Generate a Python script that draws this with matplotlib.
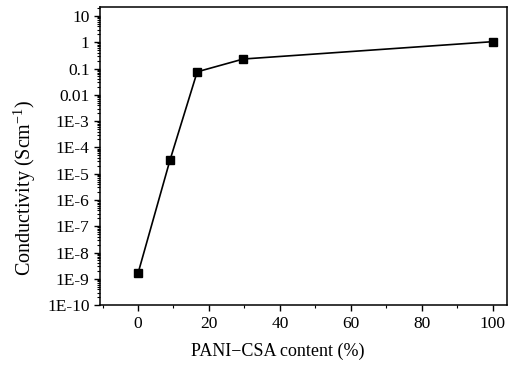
import numpy as np
import matplotlib.pyplot as plt
from matplotlib.ticker import LogLocator, MultipleLocator, NullFormatter

# data
content = [0, 9, 16.7, 29.7, 100]
conductivity = [1.6e-9, 3.2e-5, 0.075, 0.23, 1.05]

y_ticks = [10, 1, 0.1, 0.01, 1e-3, 1e-4, 1e-5, 1e-6, 1e-7, 1e-8, 1e-9, 1e-10]
y_tick_labels = ["10", "1", "0.1", "0.01", "1E-3", "1E-4", "1E-5", "1E-6",
                 "1E-7", "1E-8", "1E-9", "1E-10"]
x_ticks = [0, 20, 40, 60, 80, 100]

plt.rcParams['font.family'] = ['Liberation Serif', 'DejaVu Serif']

fig = plt.figure(figsize=(5.13, 3.65), dpi=100)
ax = fig.add_axes([0.195, 0.164, 0.793, 0.817])

ax.plot(content, conductivity, color='black', lw=1.2, marker='s', ms=6,
        markerfacecolor='black', markeredgecolor='black')

ax.set_yscale('log')
ax.set_ylim(1e-10, 22)
ax.set_xlim(-10.7, 104)

ax.set_yticks(y_ticks)
ax.set_yticklabels(y_tick_labels)
ax.yaxis.set_minor_locator(LogLocator(base=10, subs=np.arange(2, 10), numticks=100))
ax.yaxis.set_minor_formatter(NullFormatter())

ax.set_xticks(x_ticks)
ax.xaxis.set_minor_locator(MultipleLocator(10))

ax.tick_params(which='both', direction='out', top=False, right=False, labelsize=12.5)
ax.tick_params(which='major', length=4, width=1)
ax.tick_params(which='minor', length=2.5, width=0.8)
for s in ax.spines.values():
    s.set_linewidth(1.1)

ax.set_xlabel("PANI\u2212CSA content (%)", fontsize=13, labelpad=8)
ax.xaxis.label.set_x(0.437)
ax.set_ylabel("Conductivity (Scm$^{\\mathregular{-1}}$)", fontsize=14.5)
ax.yaxis.set_label_coords(-0.152, 0.393)

fig.savefig("out.png", dpi=100)
